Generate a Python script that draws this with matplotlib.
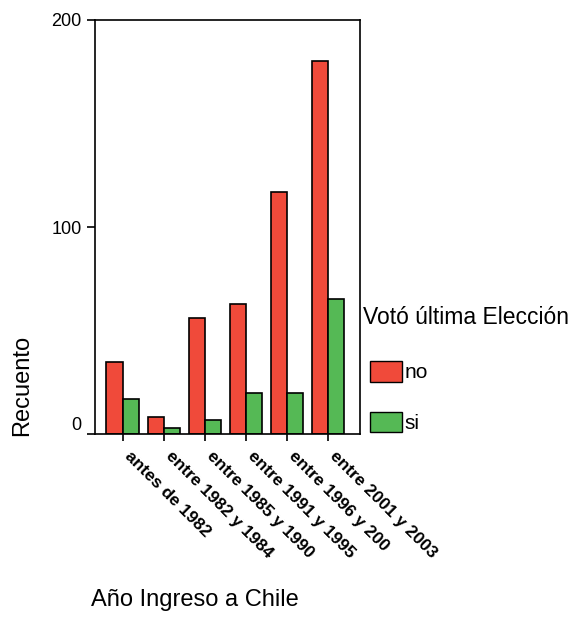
import numpy as np
import matplotlib.pyplot as plt
import matplotlib.transforms as mtransforms
from matplotlib.patches import Patch

# data
categorias = ['antes de 1982', 'entre 1982 y 1984', 'entre 1985 y 1990',
              'entre 1991 y 1995', 'entre 1996 y 200', 'entre 2001 y 2003']
voto_no = [35, 8, 56, 63, 117, 180]
voto_si = [17, 3, 7, 20, 20, 65]

rojo = '#f04a3a'
verde = '#55b955'

plt.rcParams['font.family'] = ['Liberation Sans', 'DejaVu Sans']

fig = plt.figure(figsize=(5.71, 6.17), dpi=100)
W, H = 571, 617
ax = fig.add_axes([95 / W, 1 - 434 / H, 265 / W, 414 / H])

x = np.arange(len(categorias))
w = 0.4
ax.bar(x - w / 2, voto_no, w, color=rojo, edgecolor='black', linewidth=1.2)
ax.bar(x + w / 2, voto_si, w, color=verde, edgecolor='black', linewidth=1.2)

ax.set_xlim(-0.68, 5.78)
ax.set_ylim(0, 200)
ax.set_yticks([0, 100, 200])
ax.tick_params(axis='y', labelsize=13, length=6, width=1.2, direction='out')
ax.tick_params(axis='x', length=5, width=1.2, direction='out', pad=9)
ax.set_xticks(x)
ax.set_xticklabels(categorias, rotation=-45, ha='left', va='center',
                   rotation_mode='anchor', fontsize=12.5, fontweight='bold')
shift = mtransforms.ScaledTranslation(4 / 100, 0, fig.dpi_scale_trans)
for lab in ax.get_xticklabels():
    lab.set_transform(lab.get_transform() + shift)
# the "0" sits above the baseline in the original
ax.get_yticklabels()[0].set_va('bottom')
for s in ax.spines.values():
    s.set_linewidth(1.2)

fig.text(22 / W, 1 - 436 / H, 'Recuento', rotation=90, fontsize=17,
         ha='center', va='bottom')
fig.text(91 / W, 1 - 600 / H, 'Año Ingreso a Chile', fontsize=17,
         ha='left', va='center')

# legend
fig.text(363 / W, 1 - 317 / H, 'Votó última Elección', fontsize=16.5,
         ha='left', va='center')
handles = [Patch(facecolor=rojo, edgecolor='black', label='no'),
           Patch(facecolor=verde, edgecolor='black', label='si')]
fig.legend(handles=handles, loc='upper left',
           bbox_to_anchor=(370 / W, 1 - 361 / H), borderpad=0,
           borderaxespad=0, frameon=False, fontsize=15,
           handlelength=1.55, handleheight=1.15, handletextpad=0.1,
           labelspacing=1.4)

fig.savefig('out.png', dpi=100)
